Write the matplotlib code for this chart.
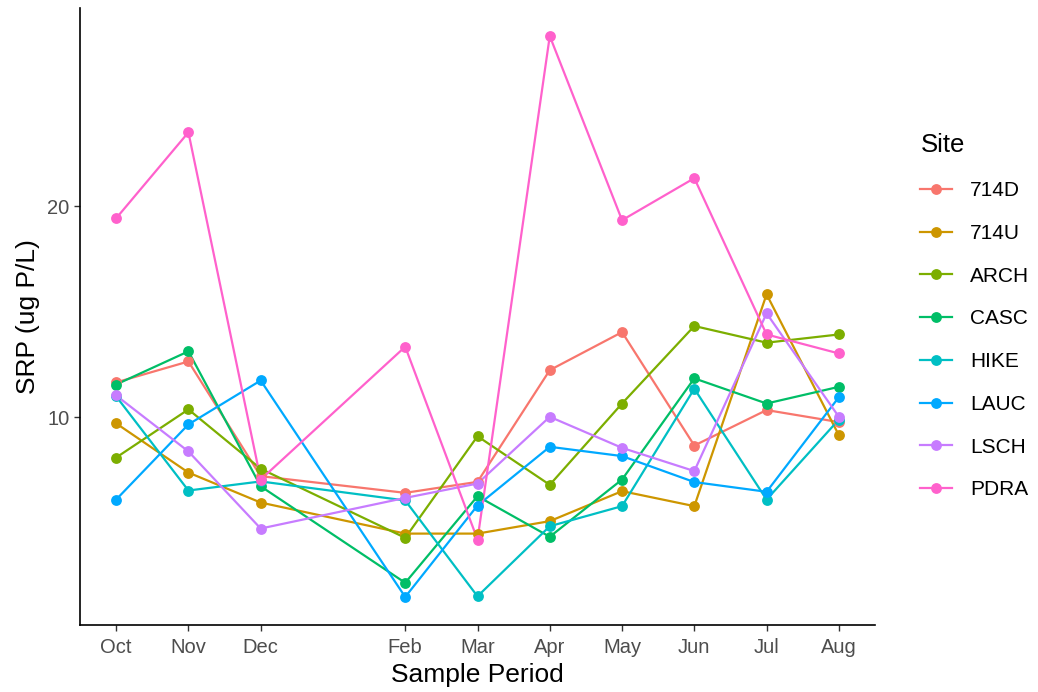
import matplotlib
matplotlib.use("Agg")
import matplotlib.pyplot as plt
from matplotlib.lines import Line2D

plt.rcParams["font.family"] = ["Liberation Sans", "DejaVu Sans"]

months = ["Oct", "Nov", "Dec", "Feb", "Mar", "Apr", "May", "Jun", "Jul", "Aug"]
month_pos = [0, 1, 2, 4, 5, 6, 7, 8, 9, 10]

sites = ["714D", "714U", "ARCH", "CASC", "HIKE", "LAUC", "LSCH", "PDRA"]
colors = ["#F8766D", "#CD9600", "#7CAE00", "#00BE67", "#00BFC4", "#00A9FF", "#C77CFF", "#FF61CC"]

srp_714D = [11.66, 12.65, 7.22, 6.43, 6.95, 12.24, 14.04, 8.67, 10.35, 9.78]
srp_714U = [9.72, 7.39, 5.97, 4.50, 4.50, 5.09, 6.51, 5.80, 15.83, 9.16]
srp_ARCH = [8.10, 10.38, 7.57, 4.30, 9.11, 6.81, 10.66, 14.33, 13.54, 13.93]
srp_CASC = [11.56, 13.13, 6.74, 2.17, 6.27, 4.35, 7.06, 11.85, 10.66, 11.45]
srp_HIKE = [11.00, 6.54, 6.97, 6.07, 1.53, 4.85, 5.80, 11.36, 6.11, 9.90]
srp_LAUC = [6.11, 9.67, 11.75, 1.50, 5.83, 8.61, 8.17, 6.94, 6.48, 10.96]
srp_LSCH = [11.04, 8.39, 4.74, 6.19, 6.87, 10.03, 8.56, 7.46, 14.93, 10.03]
srp_PDRA = [19.43, 23.50, 7.06, 13.35, 4.22, 28.06, 19.34, 21.33, 13.93, 13.03]

series = [srp_714D, srp_714U, srp_ARCH, srp_CASC, srp_HIKE, srp_LAUC, srp_LSCH, srp_PDRA]

fig = plt.figure(figsize=(10.38, 6.92), dpi=100)
ax = fig.add_axes([80 / 1038, 67 / 692, (875 - 80) / 1038, (625 - 8) / 692])

for vals, c in zip(series, colors):
    ax.plot(month_pos, vals, color=c, lw=1.6, zorder=2, solid_capstyle="butt")
for vals, c in zip(series, colors):
    ax.plot(month_pos, vals, ls="none", marker="o", ms=7.8, color=c, mec="none", zorder=3)

allv = [v for s in series for v in s]
lo, hi = min(allv), max(allv)
pad = (hi - lo) * 0.05
ax.set_ylim(lo - pad, hi + pad)
ax.set_xlim(-0.5, 10.5)

ax.set_xticks(month_pos)
ax.set_xticklabels(months)
ax.set_yticks([10, 20])
ax.set_yticklabels(["10", "20"])

for s in ["top", "right"]:
    ax.spines[s].set_visible(False)
for s in ["left", "bottom"]:
    ax.spines[s].set_color("black")
    ax.spines[s].set_linewidth(1.2)
ax.tick_params(axis="both", colors="#333333", labelcolor="#4d4d4d", labelsize=14.5,
               length=4.5, width=1.0, pad=3)
ax.tick_params(axis="x", pad=5)

ax.set_xlabel("Sample Period", fontsize=19, color="black", labelpad=4.5)
ax.set_ylabel("SRP (ug P/L)", fontsize=19, color="black", labelpad=5)

handles = [Line2D([0], [0], color=c, lw=1.6, marker="o", ms=7.8, mec="none") for c in colors]
leg = fig.legend(handles, sites, loc="upper left", bbox_to_anchor=(912 / 1038, 1 - 125 / 692),
                 frameon=False, fontsize=15, title="Site", title_fontsize=18.5,
                 handlelength=1.5, handletextpad=0.9, labelspacing=1.14, borderaxespad=0)
leg._legend_box.align = "left"

fig.savefig("out.png", dpi=100)
